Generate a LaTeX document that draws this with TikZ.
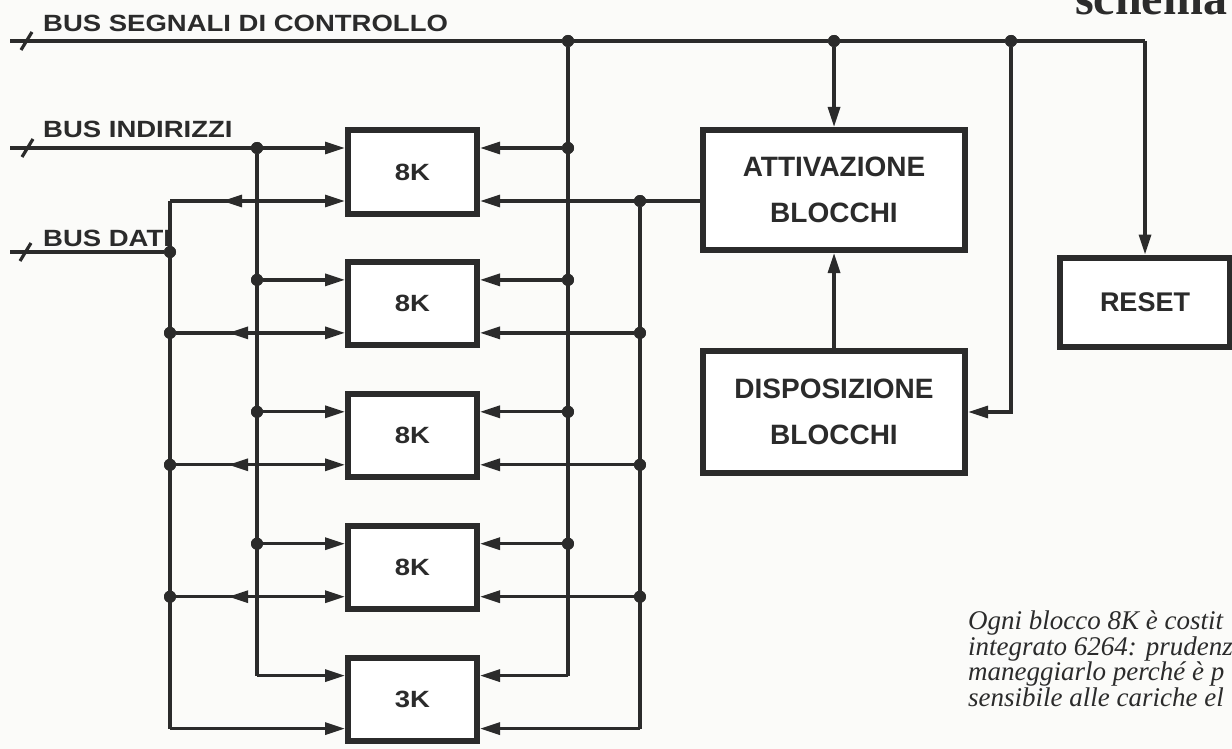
\documentclass[tikz,border=0pt]{standalone}
\usepackage{fontspec}
\usetikzlibrary{arrows.meta,decorations.markings}
\newfontfamily\busfont[FakeStretch=1.17]{Liberation Sans}
\newfontfamily\boxfont{Liberation Sans}
\newfontfamily\capfont{Liberation Serif}
\definecolor{ink}{HTML}{2B2B2B}
\definecolor{paper}{HTML}{FBFBF9}
\tikzset{
  wire/.style={draw=ink, line width=3.2pt},
  arr/.style={wire, -{Triangle[length=20pt,width=12pt]}},
  midback/.style={postaction={decorate}, decoration={markings,
      mark=at position 52pt with {\arrowreversed[ink]{Triangle[length=20pt,width=12pt]}}}},
  blk/.style={draw=ink, line width=6pt, fill=white, inner sep=0pt, text=ink},
  mem/.style={blk, minimum width=129pt, minimum height=83pt, font=\busfont\bfseries\fontsize{23.5}{23.5}\selectfont},
  big/.style={blk, minimum width=262pt, minimum height=120pt, align=center,
      font=\boxfont\bfseries\fontsize{28}{46}\selectfont},
  dot/.style={circle, fill=ink, minimum size=12pt, inner sep=0pt},
  buslbl/.style={anchor=base west, text=ink, inner sep=0pt, font=\busfont\bfseries\fontsize{23.5}{23.5}\selectfont},
}
\begin{document}
\begin{tikzpicture}[x=1pt,y=-1pt]
\useasboundingbox (0,0) rectangle (1232,749);
\fill[paper] (0,0) rectangle (1232,749);
\clip (0,0) rectangle (1232,749);

% memory blocks
\node[mem] (m0) at (412.5,172) {8K};
\node[mem] (m1) at (412.5,303.9) {8K};
\node[mem] (m2) at (412.5,435.8) {8K};
\node[mem] (m3) at (412.5,567.7) {8K};
\node[mem] (m4) at (412.5,699.6) {3K};

% other blocks
\node[big] (att) at (834,190) {ATTIVAZIONE\\BLOCCHI};
\node[big, minimum height=122pt] (dis) at (834,412) {DISPOSIZIONE\\BLOCCHI};
\node[blk, minimum width=170pt, minimum height=89pt,
      font=\boxfont\bfseries\fontsize{27}{27}\selectfont] (rst) at (1145,302) {RESET};

% bus starts
\coordinate (sc) at (10,41);
\coordinate (sa) at (10,148);
\coordinate (sd) at (10,252);

% junctions: control bus
\node[dot] (ct) at (568,41) {};
\node[dot] (cx) at (834,41) {};
\node[dot] (cy) at (1011,41) {};
\coordinate (cr) at (1145,41);

% address junctions
\node[dot] (a0) at (257,148) {};
\node[dot] (a1) at (257,279.9) {};
\node[dot] (a2) at (257,411.8) {};
\node[dot] (a3) at (257,543.7) {};
\coordinate (a4) at (257,675.6);

% data junctions
\coordinate (d0) at (170,201);
\node[dot] (dd) at (170,252) {};
\node[dot] (d1) at (170,332.9) {};
\node[dot] (d2) at (170,464.8) {};
\node[dot] (d3) at (170,596.7) {};
\coordinate (d4) at (170,728.6);

% control verticals on right
\node[dot] (c0) at (568,148) {};
\node[dot] (c1) at (568,279.9) {};
\node[dot] (c2) at (568,411.8) {};
\node[dot] (c3) at (568,543.7) {};
\coordinate (c4) at (568,675.6);

\node[dot] (e0) at (640,201) {};
\node[dot] (e1) at (640,332.9) {};
\node[dot] (e2) at (640,464.8) {};
\node[dot] (e3) at (640,596.7) {};
\coordinate (e4) at (640,728.6);

% control bus
\draw[wire] (sc) -- (ct) -- (cx) -- (cy) -- (cr);
\draw[arr] (cr) -- (rst.north);
\draw[arr] (cx) -- (att.north);
\draw[arr] (cy) |- (dis.east);
\draw[arr] (dis.north) -- (att.south);
\draw[wire] (ct) -- (c4);
\draw[arr] (c0) -- (m0.east |- c0);
\draw[arr] (c1) -- (m1.east |- c1);
\draw[arr] (c2) -- (m2.east |- c2);
\draw[arr] (c3) -- (m3.east |- c3);
\draw[arr] (c4) -- (m4.east |- c4);

% activation outputs
\draw[arr] (att.west |- e0) -- (m0.east |- e0);
\draw[wire] (e0) -- (e4);
\draw[arr] (e1) -- (m1.east |- e1);
\draw[arr] (e2) -- (m2.east |- e2);
\draw[arr] (e3) -- (m3.east |- e3);
\draw[arr] (e4) -- (m4.east |- e4);

% address bus
\draw[arr] (sa) -- (m0.west |- sa);
\draw[wire] (a0) -- (a4);
\draw[arr] (a1) -- (m1.west |- a1);
\draw[arr] (a2) -- (m2.west |- a2);
\draw[arr] (a3) -- (m3.west |- a3);
\draw[arr] (a4) -- (m4.west |- a4);

% data bus
\draw[wire] (sd) -- (dd);
\draw[wire] (d0) -- (d4);
\draw[arr, midback] (d0) -- (m0.west |- d0);
\draw[arr, midback] (d1) -- (m1.west |- d1);
\draw[arr, midback] (d2) -- (m2.west |- d2);
\draw[arr, midback] (d3) -- (m3.west |- d3);
\draw[arr] (d4) -- (m4.west |- d4);

% redraw dots on top
\foreach \n in {ct,cx,cy,a0,a1,a2,a3,dd,d1,d2,d3,c0,c1,c2,c3,e0,e1,e2,e3}
  \fill[ink] (\n) circle (6pt);

% bus slashes
\draw[wire] (21,50) -- (32,32);
\draw[wire] (22,157) -- (33,139);
\draw[wire] (20,261) -- (31,243);

% labels
\node[buslbl] (lc) at (43,32) {BUS SEGNALI DI CONTROLLO};
\node[buslbl] (li) at (43,138) {BUS INDIRIZZI};
\node[buslbl] (ld) at (43,246) {BUS DATI};

\node[anchor=base west, inner sep=0pt, text=ink,
      font=\capfont\bfseries\fontsize{48}{48}\selectfont] (sch) at (1075,15) {schema};

\node[anchor=north west, inner sep=0pt, align=left, text=ink,
      font=\capfont\itshape\fontsize{27}{23}\selectfont] (cap) at (968,611)
  {Ogni blocco 8K è costit\\integrato 6264: prudenz\\maneggiarlo perché è p\\sensibile alle cariche el};
\end{tikzpicture}
\end{document}
